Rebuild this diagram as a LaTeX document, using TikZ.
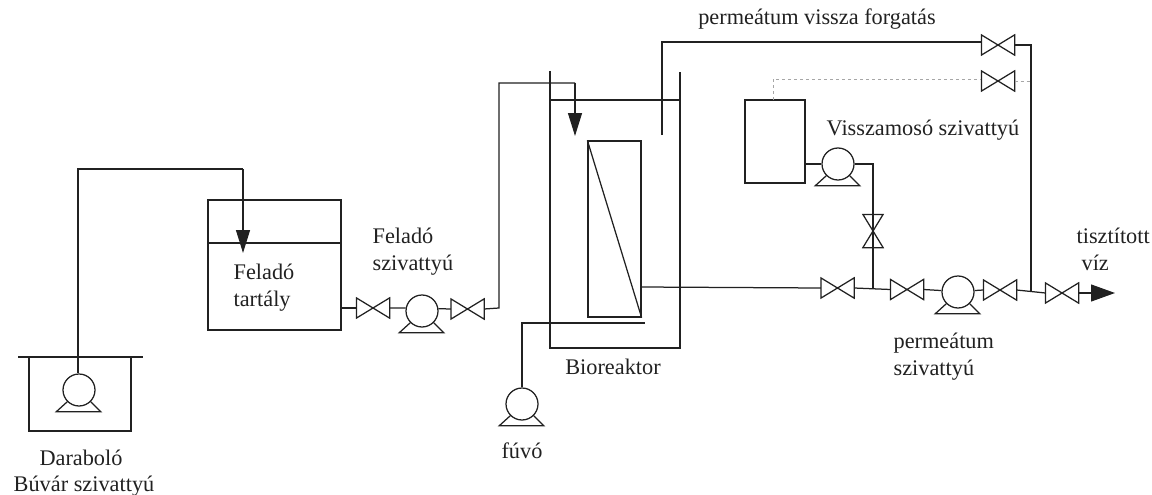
\documentclass[tikz,border=0pt]{standalone}
\usepackage{fontspec}
\setmainfont{Liberation Serif}
\usetikzlibrary{arrows.meta}
\definecolor{ink}{gray}{0.13}
\newcommand{\valve}[3][]{%
  \node[valvebox,#1] (#2) at (#3) {};
  \draw (#2.north west) -- (#2.south east) -- (#2.north east) -- (#2.south west) -- cycle;
}
\newcommand{\pump}[2]{%
  \node[pumpbody] (#1) at (#2) {};
  \draw (#1.225) -- ++(-11,10) -- ++(44.6,0) -- (#1.315);
}
\tikzset{
  pipe/.style={draw=ink,line width=1.25pt},
  feed/.style={pipe,-{Triangle[length=23pt,width=14pt]}},
  outflow/.style={pipe,-{Triangle[length=24pt,width=17pt]}},
  vessel/.style={draw=ink,line width=1.25pt,inner sep=0pt},
  valvebox/.style={inner sep=0pt,minimum width=32pt,minimum height=19pt},
  pumpbody/.style={draw=ink,line width=1.25pt,circle,inner sep=0pt,minimum size=32pt},
  lbl/.style={text=ink,align=left,inner sep=0pt,font=\fontsize{22.3}{27}\selectfont}
}
\begin{document}
\begin{tikzpicture}[x=1pt,y=-1pt,ink,line width=1.25pt]
\useasboundingbox (0,0) rectangle (1152,495);
% left part
\pump{diver}{79,390}
\node[vessel,minimum width=133pt,minimum height=130pt] (feedtank) at (274.5,265) {};
\valve{vfeedA}{373,308}
\pump{pfeed}{422,311}
\valve{vfeedB}{467.5,309}
\coordinate (sumpL) at (18,357);
\coordinate (sumpR) at (143,357);
\coordinate (sumpA) at (29,357);
\coordinate (sumpB) at (29,431);
\coordinate (sumpC) at (131,431);
\coordinate (sumpD) at (131,357);
\coordinate (turnA) at (78,169);
\coordinate (turnB) at (243,169);
\coordinate (feedtip) at (243,253);
\coordinate (riser) at (499,308);
\coordinate (turnC) at (499,83);
\coordinate (turnD) at (575,83);
\coordinate (reactip) at (575,136);
\draw[pipe] (sumpL) -- (sumpR);
\draw[pipe] (sumpA) -- (sumpB) -- (sumpC) -- (sumpD);
\draw[pipe] (diver.north -| turnA) -- (turnA) -- (turnB);
\draw[feed] (turnB) -- (feedtip);
\draw[pipe] (feedtank.west |- 0,243) -- (feedtank.east |- 0,243);
\draw[pipe] (feedtank.east |- vfeedA) -- (vfeedA.west);
\draw[pipe] (vfeedA.east) -- (pfeed.170);
\draw[pipe] (pfeed.8) -- (vfeedB.west);
\draw[pipe] (vfeedB.east) -- (riser) -- (turnC) -- (turnD);
\draw[feed] (turnD) -- (reactip);
% bioreaktor
\coordinate (wallLt) at (550,71);
\coordinate (wallLb) at (550,348);
\coordinate (wallRt) at (680,72);
\coordinate (wallRb) at (680,348);
\coordinate (levelL) at (550,100);
\coordinate (levelR) at (680,100);
\node[vessel,minimum width=53pt,minimum height=176pt] (membrane) at (614.5,229) {};
\pump{blower}{522,404}
\coordinate (airA) at (522,323);
\coordinate (airB) at (645,323);
\draw[pipe] (wallLt) -- (wallLb) -- (wallRb) -- (wallRt);
\draw[pipe] (levelL) -- (levelR);
\draw[pipe] (membrane.north west) -- (membrane.south east);
\draw[pipe] (blower.north) -- (airA) -- (airB);
% right part
\valve{vback}{837.5,288}
\valve{vperA}{907,289.5}
\pump{pperm}{958,292}
\valve{vperB}{1000,290}
\valve{vout}{1062,293}
\valve{vrecA}{998,45}
\valve{vrecB}{998,81}
\node[vessel,minimum width=60pt,minimum height=83pt] (backtank) at (775,141.5) {};
\pump{pback}{838,164}
\valve[rotate=90]{vwash}{873,231}
\coordinate (dipA) at (662,135);
\coordinate (dipB) at (662,42);
\coordinate (drop) at (1031,45);
\coordinate (meet) at (1031,291);
\coordinate (washA) at (873,164);
\coordinate (washB) at (873,289);
\coordinate (outtip) at (1115,293);
\coordinate (dashA) at (773,100);
\coordinate (dashB) at (773,79);
\coordinate (dashC) at (1031,81);
\draw[pipe] (dipA) -- (dipB) -- (vrecA.west |- dipB);
\draw[pipe] (vrecA.east) -- (drop) -- (meet);
\draw[draw=gray!70,line width=0.8pt,dashed] (dashA) -- (dashB) -- (vrecB.west |- dashB);
\draw[draw=gray!70,line width=0.8pt,dashed] (vrecB.east) -- (dashC);
\draw[pipe] (membrane.east |- 0,287) -- (vback.west);
\draw[pipe] (vback.east) -- (vperA.west);
\draw[pipe] (vperA.east) -- (pperm.175);
\draw[pipe] (pperm.5) -- (vperB.west);
\draw[pipe] (vperB.east) -- (vout.west);
\draw[outflow] (vout.east) -- (outtip);
\draw[pipe] (backtank.east |- washA) -- (pback.west);
\draw[pipe] (pback.east) -- (washA) -- (vwash.west);
\draw[pipe] (vwash.east) -- (washB);
% labels
\node[lbl,anchor=center] (lbdiverA) at (81,458) {Daraboló};
\node[lbl,anchor=center] (lbdiverB) at (84,486) {Búvár szivattyú};
\node[lbl,anchor=west] (lbtank) at (233,288) {Feladó\\tartály};
\node[lbl,anchor=west] (lbfeed) at (372,252) {Feladó\\szivattyú};
\node[lbl,anchor=center] (lbreact) at (613,367) {Bioreaktor};
\node[lbl,anchor=center] (lbblow) at (522,451) {fúvó};
\node[lbl,anchor=center] (lbrec) at (817,19) {permeátum vissza forgatás};
\node[lbl,anchor=center] (lbwash) at (923,130) {Visszamosó szivattyú};
\node[lbl,anchor=west] (lbperm) at (893,357) {permeátum\\szivattyú};
\node[lbl,anchor=west] (lbclean) at (1076,249) {tisztított\\\hspace*{5pt}víz};
\end{tikzpicture}
\end{document}
